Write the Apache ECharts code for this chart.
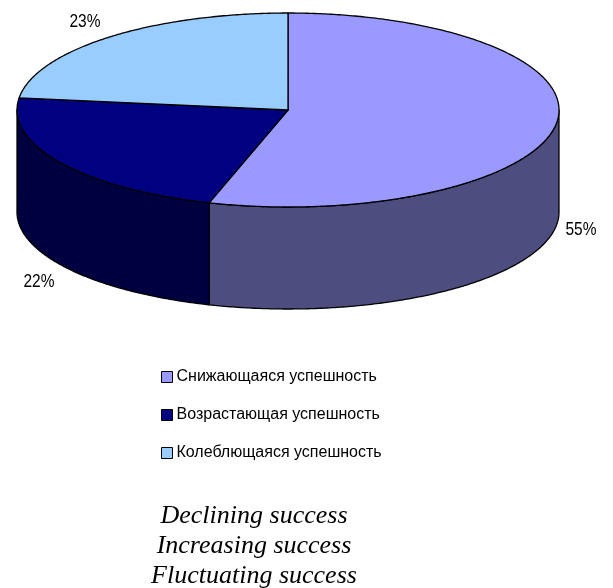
<!DOCTYPE html>
<html><head><meta charset="utf-8">
<style>html,body{margin:0;padding:0;background:#fff}#c{width:613px;height:588px}</style>
<script src="https://cdn.jsdelivr.net/npm/echarts@6/dist/echarts.min.js"></script>
</head><body><div id="c"></div>
<script>
const categories = ['Снижающаяся успешность','Возрастающая успешность','Колеблющаяся успешность'];
const values = [54.7,22.3,23];
const englishLines = ['Declining success','Increasing success','Fluctuating success'];
const topColors = ['#9999FF','#000080','#99CCFF'];
const sideColors = ['#4D4D80','#000040','#4D6680'];

const CX=288, CY=110, RX=271, RY=97, DEPTH=102;
const labelAt = [[581,230],[39,282],[85,22]];
const total = values.reduce((a,b)=>a+b,0);
const pt=(t,dy)=>[CX+RX*Math.sin(t), CY-RY*Math.cos(t)+(dy||0)];
function arc(a,b,dy){const n=Math.max(2,Math.ceil((b-a)/0.01));const r=[];for(let i=0;i<=n;i++)r.push(pt(a+(b-a)*i/n,dy));return r;}

function slice(idx){
  return function(params,api){
    const v=api.value(0);
    let before=0; for(let i=0;i<idx;i++) before+=values[i];
    const a=before/total*2*Math.PI, b=(before+v)/total*2*Math.PI;
    const children=[];
    const s0=Math.max(a,Math.PI/2), s1=Math.min(b,Math.PI*1.5);
    const line={stroke:'#000',lineWidth:1.3,lineJoin:'round'};
    if(s1>s0){
      const up=arc(s0,s1,0), down=arc(s0,s1,DEPTH).reverse();
      children.push({type:'polygon',shape:{points:up.concat(down)},style:Object.assign({fill:sideColors[idx]},line)});
    }
    children.push({type:'polygon',shape:{points:[[CX,CY]].concat(arc(a,b,0))},style:Object.assign({fill:topColors[idx]},line)});
    children.push({type:'text',x:labelAt[idx][0],y:labelAt[idx][1],scaleX:0.86,style:{x:0,y:0,text:Math.round(v)+'%',align:'center',verticalAlign:'middle',
      fontFamily:'"Liberation Sans"',fontSize:18,fill:'#000'}});
    return {type:'group',children};
  };
}
const chart=echarts.init(document.getElementById('c'),null,{renderer:'canvas'});
chart.setOption({
  animation:false,
  backgroundColor:'#fff',
  color:topColors,
  legend:{
    orient:'vertical',left:156,top:362,
    data:categories,icon:'rect',itemWidth:11,itemHeight:11,itemGap:18,
    selectedMode:false,
    itemStyle:{borderColor:'#000',borderWidth:1},
    textStyle:{fontFamily:'"Liberation Sans"',fontSize:16,color:'#000',padding:[0,0,0,-1],lineHeight:20}
  },
  title:englishLines.map((t,i)=>({text:t,left:254,top:501+30*i,textAlign:'center',padding:0,
    textStyle:{fontFamily:'"Liberation Serif"',fontStyle:'italic',fontWeight:'normal',fontSize:26,color:'#000',lineHeight:30}})),
  series:categories.map((name,i)=>({
    type:'custom',name,coordinateSystem:'none',
    itemStyle:{color:topColors[i]},
    data:[[values[i]]],
    renderItem:slice(i),silent:true
  }))
});
</script></body></html>
